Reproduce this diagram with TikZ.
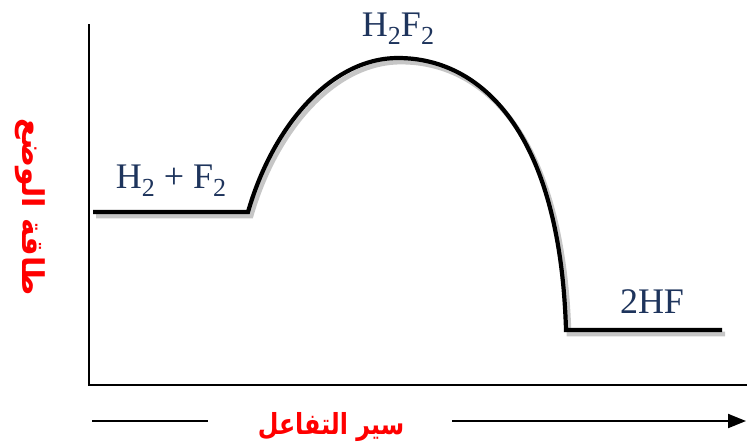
\documentclass[tikz,border=0pt]{standalone}
\usepackage{fontspec}
\setmainfont{Liberation Serif}
\newfontfamily\arabicfont[Script=Arabic]{DejaVu Sans}
\TeXXeTstate=1
\usetikzlibrary{arrows.meta}
\definecolor{labelblue}{RGB}{30,52,92}
\newcommand{\lowsub}[1]{\raisebox{-0.22em}{\fontsize{13}{14}\selectfont #1}}
\tikzset{
	curve/.style={line width=2.1pt, line join=miter},
	shadow/.style={line width=2.4pt, gray!45},
	species/.style={text=labelblue, font=\fontsize{18}{20}\selectfont, inner sep=0pt},
	axislabel/.style={text=red, font=\arabicfont\bfseries, inner sep=0pt}
}
\begin{document}
\begin{tikzpicture}[x=0.5pt, y=-0.5pt]
	\useasboundingbox (0,0) rectangle (747,446);
	% axes
	\draw[line width=0.9pt] (89,24)--(89,385)--(747,385);

	% shadow of the energy curve
	\begin{scope}[shift={(3,4)}]
		\draw[shadow] (93,212)--(248,212) .. controls (272,128) and (330,58) .. (398,58)
			.. controls (480,58) and (560,130) .. (566,330)--(722,330);
	\end{scope}
	% energy curve
	\draw[curve] (93,212)--(248,212) .. controls (272,128) and (330,58) .. (398,58)
		.. controls (480,58) and (560,130) .. (566,330)--(722,330);

	\node[species] (reactants) at (171,181) {H\lowsub{2} + F\lowsub{2}};
	\node[species] (complex) at (398,29) {H\lowsub{2}F\lowsub{2}};
	\node[species] (products) at (652,302) {2HF};

	% reaction coordinate
	\node[axislabel, font=\arabicfont\bfseries\fontsize{14.5}{16}\selectfont, xscale=0.82] (progress) at (331,427) {\beginR سير التفاعل\endR};
	\coordinate (lstart) at (92,421);
	\coordinate (rend) at (746,421);
	\draw[line width=1pt] (lstart)--(lstart-|{(208,0)});
	\draw[line width=1pt, -{Triangle[length=9pt,width=7pt]}] ({(452,0)}|-rend)--(rend);

	\node[axislabel, font=\arabicfont\bfseries\fontsize{15}{18}\selectfont, rotate=-90] (energy) at (30,207) {\beginR طاقة الوضع\endR};
\end{tikzpicture}
\end{document}
